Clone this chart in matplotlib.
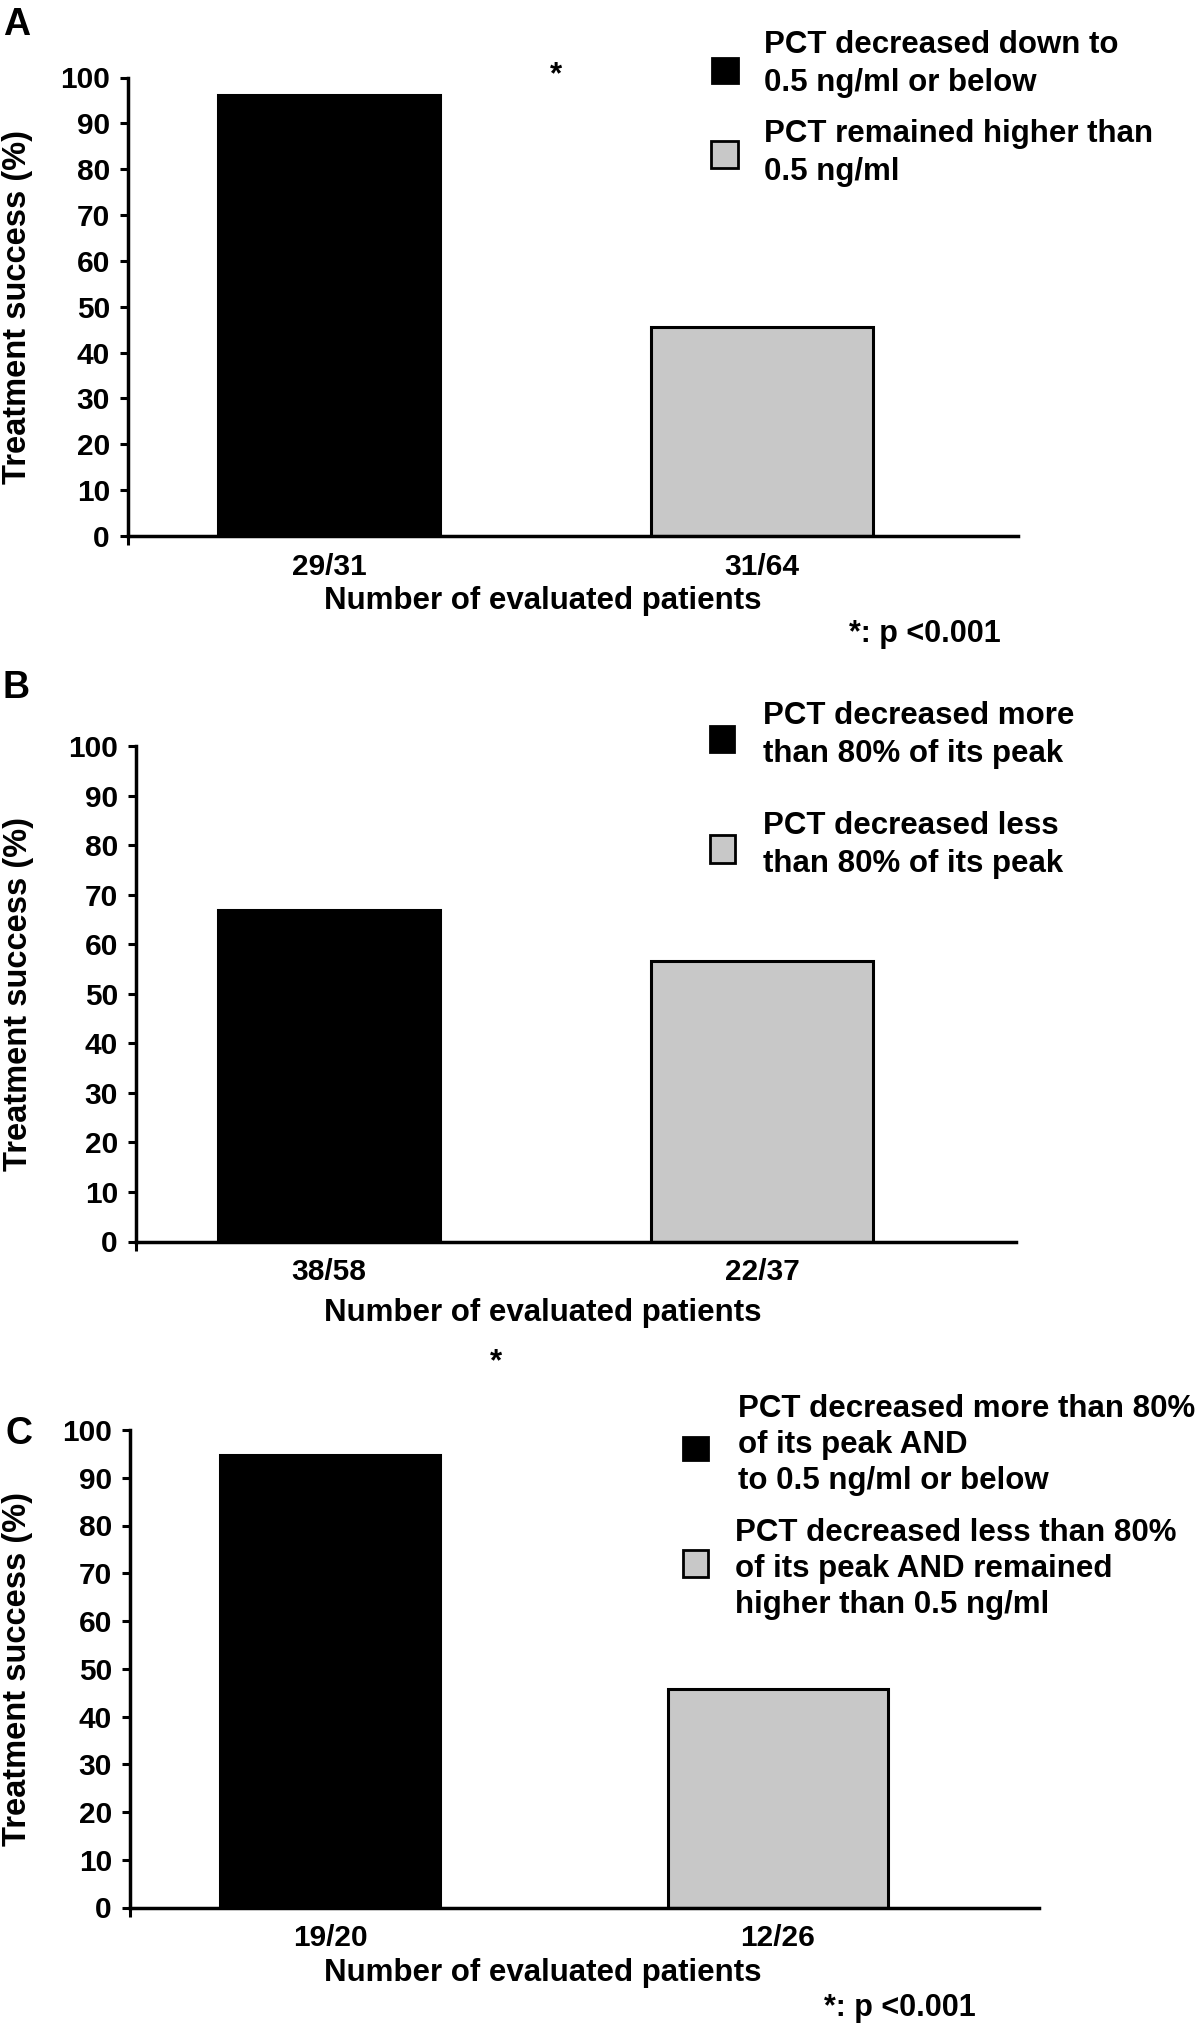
import matplotlib
matplotlib.use('Agg')
import matplotlib.pyplot as plt
from matplotlib.patches import Rectangle

plt.rcParams['font.family'] = ['Liberation Sans', 'DejaVu Sans']
plt.rcParams['font.weight'] = 'bold'

# values
panels = ['A', 'B', 'C']
counts_a = ['29/31', '31/64']
counts_b = ['38/58', '22/37']
counts_c = ['19/20', '12/26']
success_a = [96.1, 45.5]
success_b = [66.9, 56.6]
success_c = [94.8, 45.7]
legend_a = ['PCT decreased down to\n0.5 ng/ml or below',
            'PCT remained higher than\n0.5 ng/ml']
legend_b = ['PCT decreased more\nthan 80% of its peak',
            'PCT decreased less\nthan 80% of its peak']
legend_c = ['PCT decreased more than 80%\nof its peak AND\nto 0.5 ng/ml or below',
            'PCT decreased less than 80%\nof its peak AND remained\nhigher than 0.5 ng/ml']
yticks = [0, 10, 20, 30, 40, 50, 60, 70, 80, 90, 100]
bar_colors = ['black', '#c8c8c8']

W, H = 1200, 2027

# pixel layout of each panel: axes box, bar centres, bar width, legend boxes
layout = {
    'A': dict(box=(128, 77.5, 1018, 536), centers=(329, 762), barw=222,
              squares=[(712, 58, 738, 83), (711, 141, 738, 168)],
              texts=[(764, 64), (764, 153)], letter=(17, 25),
              xlab=601, star=(556, 75), pval=(925, 634), ls=1.32),
    'B': dict(box=(136, 746, 1015.6, 1241.5), centers=(329, 762), barw=222,
              squares=[(710, 726, 734, 752), (710, 835, 735, 863)],
              texts=[(763, 735), (763, 845)], letter=(16, 688),
              xlab=1313, star=None, pval=None, ls=1.32),
    'C': dict(box=(130, 1430, 1038.5, 1907.5), centers=(330, 778), barw=220,
              squares=[(683, 1437, 708, 1460), (683, 1550, 708, 1577)],
              texts=[(738, 1445), (735, 1569)], letter=(19, 1434),
              xlab=1973, star=(496, 1362), pval=(900, 2008), ls=1.25),
}


def fx(x):
    return x / W


def fy(y):
    return 1 - y / H


def draw_panel(fig, name, counts, values, labels):
    lay = layout[name]
    left, top, right, bottom = lay['box']
    ax = fig.add_axes([fx(left), fy(bottom), fx(right) - fx(left), (bottom - top) / H])
    c0, c1 = lay['centers']
    unit = c1 - c0
    ax.bar([0, 1], values, width=lay['barw'] / unit, color=bar_colors,
           edgecolor='black', linewidth=2.2)
    ax.set_xlim((left - c0) / unit, (right - c0) / unit)
    ax.set_ylim(0, 100)
    ax.set_yticks(yticks)
    ax.set_xticks([0, 1])
    ax.set_xticklabels(counts, fontsize=21.5)
    ax.set_xticks([(left - c0) / unit], minor=True)
    ax.tick_params(axis='x', which='major', length=0, pad=12)
    ax.tick_params(axis='x', which='minor', length=6.5, width=2.2, direction='out')
    ax.tick_params(axis='y', length=6, width=2.2, pad=7, labelsize=21.5)
    for s in ['top', 'right']:
        ax.spines[s].set_visible(False)
    for s in ['left', 'bottom']:
        ax.spines[s].set_linewidth(2.5)
    ax.set_ylabel('Treatment success (%)', fontsize=23.5, fontweight='bold')
    ax.yaxis.set_label_coords((18 - left) / (right - left), 0.5)
    ax.yaxis.label.set_va('center')
    ax.set_xlabel('Number of evaluated patients', fontsize=22.5, fontweight='bold')
    ax.xaxis.set_label_coords((543 - left) / (right - left),
                              (bottom - lay['xlab']) / (bottom - top))
    ax.xaxis.label.set_va('center')

    # legend squares and labels
    for (x0, y0, x1, y1), (tx, ty), col, lab in zip(lay['squares'], lay['texts'],
                                                   bar_colors, labels):
        fig.add_artist(Rectangle((fx(x0), fy(y1)), (x1 - x0) / W, (y1 - y0) / H,
                                 transform=fig.transFigure, facecolor=col,
                                 edgecolor='black', linewidth=2))
        fig.text(fx(tx), fy(ty), lab, fontsize=22.5, fontweight='bold',
                 ha='left', va='center', linespacing=lay['ls'])

    lx, ly = lay['letter']
    fig.text(fx(lx), fy(ly), name, fontsize=27, fontweight='bold',
             ha='center', va='center')
    if lay['star']:
        fig.text(fx(lay['star'][0]), fy(lay['star'][1]), '*', fontsize=22.5,
                 fontweight='bold', ha='center', va='center')
    if lay['pval']:
        fig.text(fx(lay['pval'][0]), fy(lay['pval'][1]), '*: p <0.001', fontsize=22,
                 fontweight='bold', ha='center', va='center')
    return ax


fig = plt.figure(figsize=(W / 100, H / 100), dpi=100)
draw_panel(fig, 'A', counts_a, success_a, legend_a)
draw_panel(fig, 'B', counts_b, success_b, legend_b)
draw_panel(fig, 'C', counts_c, success_c, legend_c)
fig.savefig('out.png', dpi=100, facecolor='white')
